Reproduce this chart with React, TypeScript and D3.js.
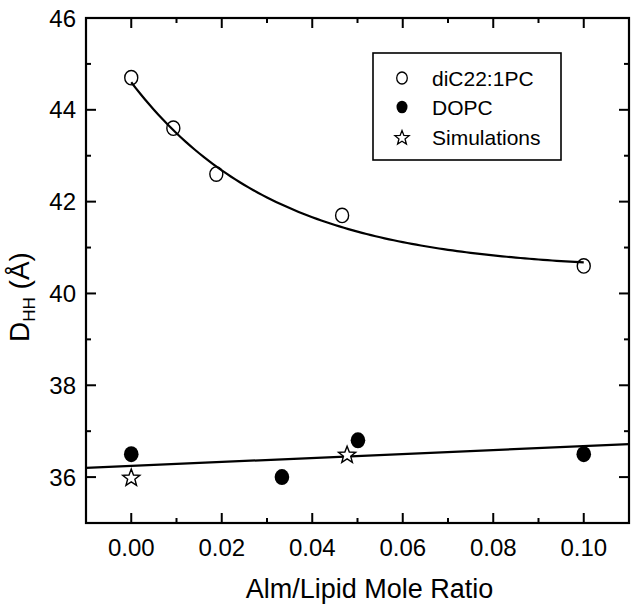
import React from "react";
import * as d3 from "d3";

// ---- data ----
const diC22X = [0.0, 0.0093, 0.0188, 0.0466, 0.1];
const diC22Y = [44.7, 43.6, 42.6, 41.7, 40.6];
const dopcX = [0.0, 0.0333, 0.0501, 0.1];
const dopcY = [36.5, 36.0, 36.8, 36.5];
const simX = [0.0, 0.0477];
const simY = [36.0, 36.5];
// exponential decay fit: y = y0 + A*exp(-x/t)
const expFit = [40.5, 4.1, 0.0317];
// linear fit: y = a + b*x
const linFit = [36.243, 4.33];
const xMajorTicks = [0, 0.02, 0.04, 0.06, 0.08, 0.1];
const xMinorTicks = [0.01, 0.03, 0.05, 0.07, 0.09];
const yMajorTicks = [36, 38, 40, 42, 44, 46];
const yMinorTicks = [37, 39, 41, 43, 45];
const legendLabels = ["diC22:1PC", "DOPC", "Simulations"];

const W = 637, H = 608;
const left = 86, right = 629, top = 18, bottom = 523;
const FONT = "'Liberation Sans', Arial, sans-serif";

function starPath(cx: number, cy: number, R: number, r: number) {
  const pts: string[] = [];
  for (let i = 0; i < 10; i++) {
    const rad = i % 2 === 0 ? R : r;
    const a = -Math.PI / 2 + (i * Math.PI) / 5;
    pts.push(`${(cx + rad * Math.cos(a)).toFixed(2)},${(cy + rad * Math.sin(a)).toFixed(2)}`);
  }
  return "M" + pts.join("L") + "Z";
}

export default function App() {
  const x = d3.scaleLinear().domain([-0.01, 0.11]).range([left, right]);
  const y = d3.scaleLinear().domain([35, 46]).range([bottom, top]);

  const line = d3.line<[number, number]>().x((d) => x(d[0])).y((d) => y(d[1]));
  const expPts: [number, number][] = d3
    .range(0, 0.1 + 1e-9, 0.001)
    .map((v) => [v, expFit[0] + expFit[1] * Math.exp(-v / expFit[2])]);
  const linPts: [number, number][] = [-0.01, 0.11].map((v) => [v, linFit[0] + linFit[1] * v]);

  const tickMaj = 10, tickMin = 5;
  const legendX = 373, legendY = 53, legendW = 188, legendH = 107;
  const rowY = [78, 107, 137];

  return (
    <svg
      width={W}
      height={H}
      style={{ position: "fixed", left: 0, top: 0, background: "#fff" }}
      fontFamily={FONT}
    >
      <rect x={0} y={0} width={W} height={H} fill="#fff" />
      {/* fit curves */}
      <path d={line(expPts) || ""} fill="none" stroke="#000" strokeWidth={2.2} />
      <path d={line(linPts) || ""} fill="none" stroke="#000" strokeWidth={2.2} />

      {/* ticks */}
      <g stroke="#000" strokeWidth={2}>
        {xMajorTicks.map((t) => (
          <g key={"xM" + t}>
            <line x1={x(t)} x2={x(t)} y1={bottom} y2={bottom - tickMaj} />
            <line x1={x(t)} x2={x(t)} y1={top} y2={top + tickMaj} />
          </g>
        ))}
        {xMinorTicks.map((t) => (
          <g key={"xm" + t}>
            <line x1={x(t)} x2={x(t)} y1={bottom} y2={bottom - tickMin} />
            <line x1={x(t)} x2={x(t)} y1={top} y2={top + tickMin} />
          </g>
        ))}
        {yMajorTicks.map((t) => (
          <g key={"yM" + t}>
            <line x1={left} x2={left + tickMaj} y1={y(t)} y2={y(t)} />
            <line x1={right} x2={right - tickMaj} y1={y(t)} y2={y(t)} />
          </g>
        ))}
        {yMinorTicks.map((t) => (
          <g key={"ym" + t}>
            <line x1={left} x2={left + tickMin} y1={y(t)} y2={y(t)} />
            <line x1={right} x2={right - tickMin} y1={y(t)} y2={y(t)} />
          </g>
        ))}
      </g>
      {/* frame */}
      <rect x={left} y={top} width={right - left} height={bottom - top} fill="none" stroke="#000" strokeWidth={2.2} />

      {/* tick labels */}
      {xMajorTicks.map((t) => (
        <text key={"xl" + t} x={x(t)} y={556} textAnchor="middle" fontSize={24}>
          {d3.format(".2f")(t)}
        </text>
      ))}
      {yMajorTicks.map((t) => (
        <text key={"yl" + t} x={76} y={y(t) + 8.5} textAnchor="end" fontSize={24}>
          {t}
        </text>
      ))}

      {/* axis titles */}
      <text x={(left + right) / 2 + 12} y={598} textAnchor="middle" fontSize={27}>
        Alm/Lipid Mole Ratio
      </text>
      <text transform={`translate(29,297) rotate(-90)`} textAnchor="middle" fontSize={28}>
        <tspan>D</tspan>
        <tspan fontSize={17} dy={6}>HH</tspan>
        <tspan dy={-6}> (Å)</tspan>
      </text>

      {/* data points */}
      {diC22X.map((v, i) => (
        <ellipse key={"o" + i} cx={x(v)} cy={y(diC22Y[i])} rx={6.5} ry={7.2} fill="none" stroke="#000" strokeWidth={1.4} />
      ))}
      {dopcX.map((v, i) => (
        <ellipse key={"f" + i} cx={x(v)} cy={y(dopcY[i])} rx={7.3} ry={8} fill="#000" />
      ))}
      {simX.map((v, i) => (
        <path key={"s" + i} d={starPath(x(v), y(simY[i]) + 1, 9, 3.8)} fill="#fff" stroke="#000" strokeWidth={1.4} />
      ))}

      {/* legend */}
      <rect x={legendX} y={legendY} width={legendW} height={legendH} fill="#fff" stroke="#000" strokeWidth={1.6} />
      <ellipse cx={402} cy={rowY[0]} rx={5.3} ry={6} fill="none" stroke="#000" strokeWidth={1.3} />
      <ellipse cx={402} cy={rowY[1]} rx={5.5} ry={6.3} fill="#000" />
      <path d={starPath(402, rowY[2] + 1, 7.5, 3.2)} fill="#fff" stroke="#000" strokeWidth={1.3} />
      {legendLabels.map((l, i) => (
        <text key={l} x={432} y={rowY[i] + 7.5} fontSize={21}>
          {l}
        </text>
      ))}
    </svg>
  );
}
